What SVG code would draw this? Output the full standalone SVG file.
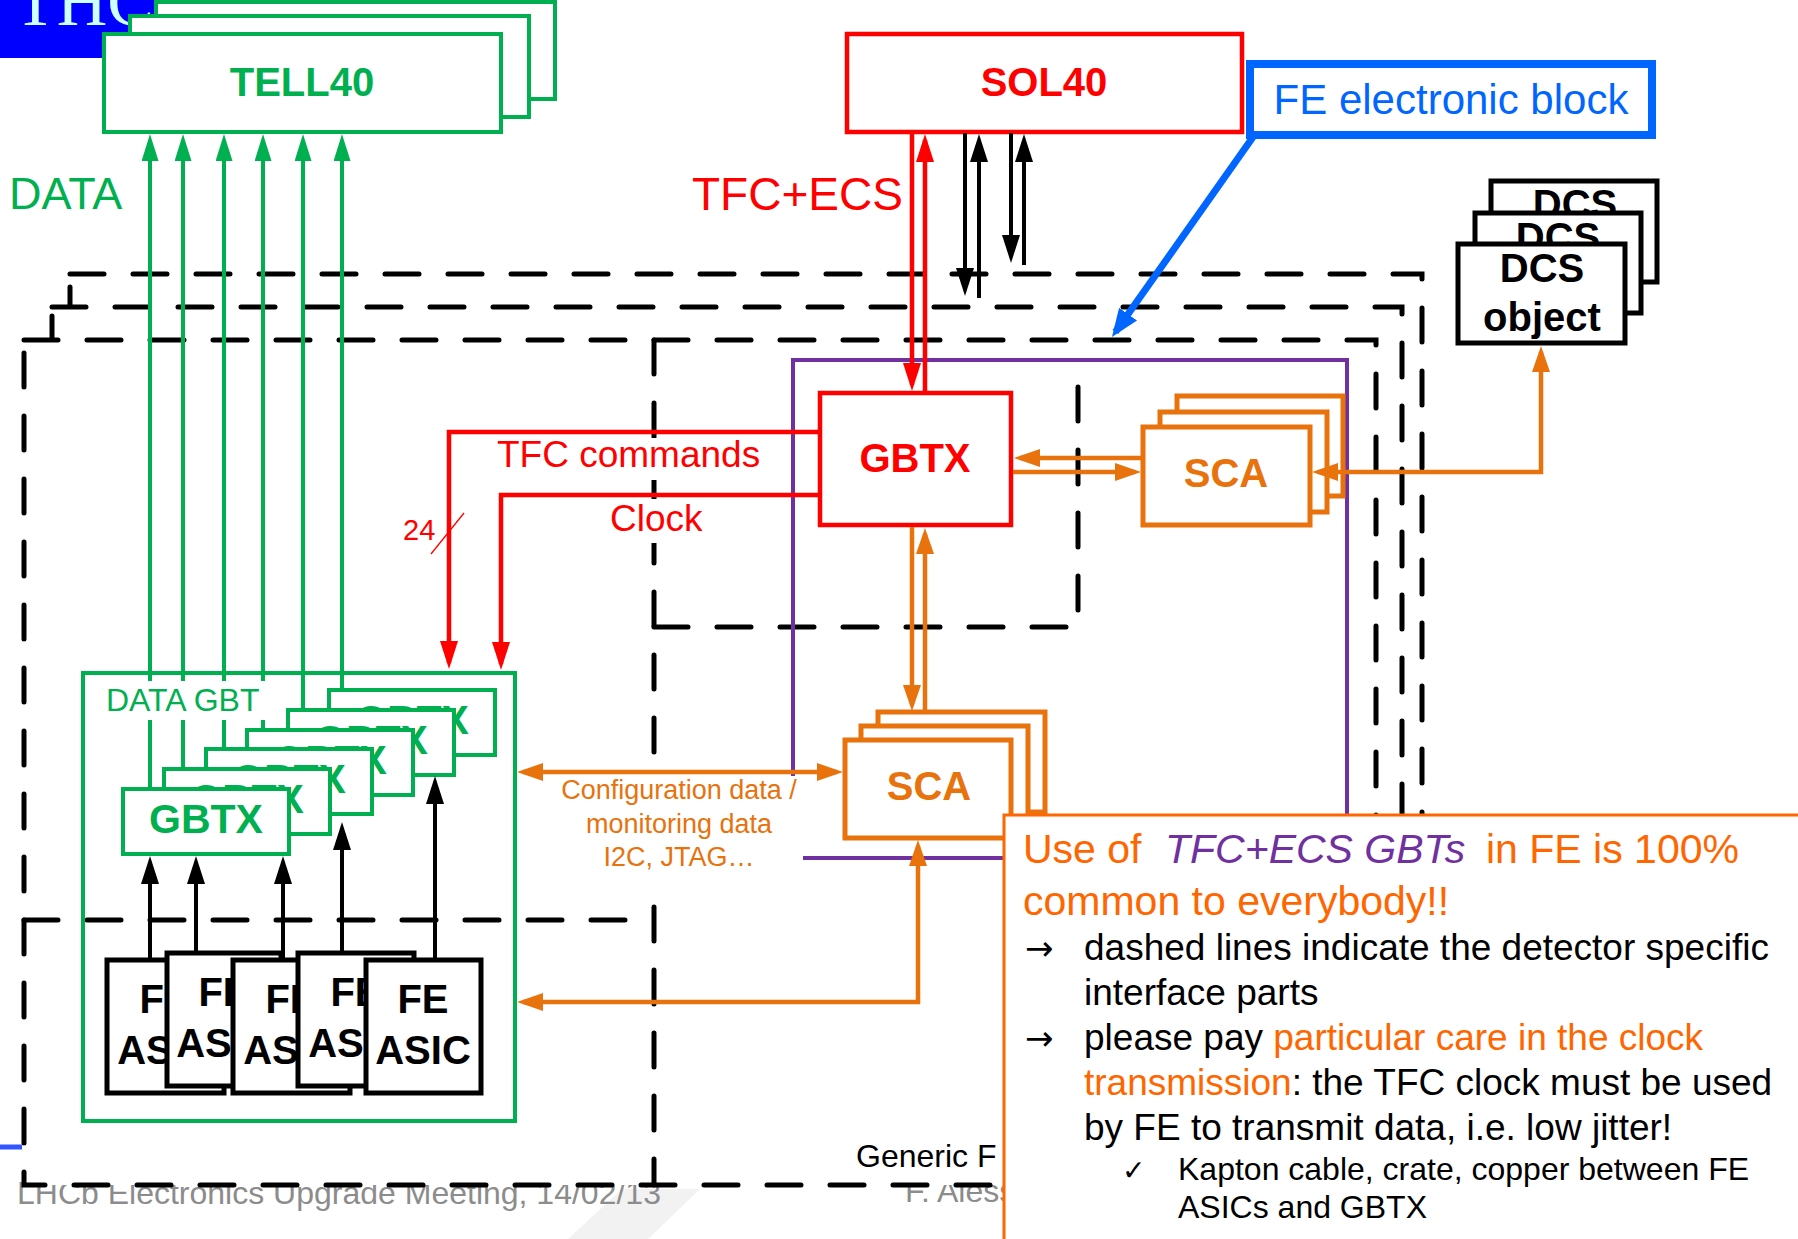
<svg xmlns="http://www.w3.org/2000/svg" width="1798" height="1239" viewBox="0 0 1798 1239">
<style>
text{font-family:"Liberation Sans",Arial,sans-serif}
.b{font-weight:bold}
.g{fill:#00B050}
.r{fill:#FF0000}
.o{fill:#E8720C}
.k{fill:#000}
.gbox{fill:#fff;stroke:#00B050;stroke-width:4}
.rbox{fill:#fff;stroke:#FF0000;stroke-width:4.5}
.obox{fill:#fff;stroke:#E8720C;stroke-width:5}
.kbox{fill:#fff;stroke:#000;stroke-width:5}
.dash{fill:none;stroke:#000;stroke-width:5;stroke-dasharray:34 29;stroke-linecap:round}
.dashf{fill:#fff;stroke:#000;stroke-width:5;stroke-dasharray:34 29;stroke-linecap:round}
.cg{fill:none;stroke:#00B050;stroke-width:4;marker-end:url(#mg)}
.cr{fill:none;stroke:#FF0000;stroke-width:4.5}
.ck{fill:none;stroke:#000;stroke-width:4}
.co{fill:none;stroke:#E8720C;stroke-width:4.5}
</style>
<defs>
<marker id="mg" viewBox="0 0 27 17" refX="21" refY="8.5" markerWidth="27" markerHeight="17" markerUnits="userSpaceOnUse" orient="auto-start-reverse"><path d="M0,0L27,8.5L0,17z" fill="#00B050"/></marker>
<marker id="mr" viewBox="0 0 28 18" refX="22" refY="9" markerWidth="28" markerHeight="18" markerUnits="userSpaceOnUse" orient="auto-start-reverse"><path d="M0,0L28,9L0,18z" fill="#FF0000"/></marker>
<marker id="mk" viewBox="0 0 28 18" refX="22" refY="9" markerWidth="28" markerHeight="18" markerUnits="userSpaceOnUse" orient="auto-start-reverse"><path d="M0,0L28,9L0,18z" fill="#000"/></marker>
<marker id="mo" viewBox="0 0 26 18" refX="20" refY="9" markerWidth="26" markerHeight="18" markerUnits="userSpaceOnUse" orient="auto-start-reverse"><path d="M0,0L26,9L0,18z" fill="#E8720C"/></marker>
<marker id="mb" viewBox="0 0 28 22" refX="22" refY="11" markerWidth="28" markerHeight="22" markerUnits="userSpaceOnUse" orient="auto-start-reverse"><path d="M0,0L28,11L0,22z" fill="#0066FF"/></marker>
</defs>
<rect x="0" y="0" width="1798" height="1239" fill="#fff"/>
<polygon points="622,1189 700,1189 648,1239 568,1239" fill="#F2F2F2"/>

<g id="title-bar">
<rect x="0" y="0" width="160" height="58" fill="#0000FF"/>
<text x="14" y="25" style="font-family:'Liberation Serif',serif;font-size:70px" fill="#CCFFFF">THC</text>
</g>
<line x1="0" y1="1147" x2="22" y2="1147" stroke="#3355FF" stroke-width="5"/>

<g id="footer">
<text x="17" y="1204" style="font-size:32px" fill="#8C8C8C">LHCb Electronics Upgrade Meeting, 14/02/13</text>
<text x="905" y="1202" style="font-size:32px" fill="#8C8C8C">F. Aless</text>
</g>

<g id="detector-frames">
<rect class="dashf" x="70" y="274" width="1352" height="845"/>
<rect class="dashf" x="52" y="307" width="1350" height="845"/>
<rect class="dashf" x="24" y="340" width="1352" height="845"/>
<path class="dash" d="M654,340V1185"/>
<path class="dash" d="M24,920H654"/>
<path class="dash" d="M654,627H1078V360"/>
</g>

<g id="fe-block-outline">
<rect x="793" y="360" width="554" height="498" fill="none" stroke="#7030A0" stroke-width="4"/>
</g>

<g id="tell40">
<rect class="gbox" x="156" y="2" width="399" height="97"/>
<rect class="gbox" x="130" y="16" width="399" height="101"/>
<rect class="gbox" x="104" y="34" width="397" height="98"/>
<text class="b g" x="302" y="96" text-anchor="middle" style="font-size:40px">TELL40</text>
</g>

<g id="sol40">
<rect class="rbox" x="847" y="34" width="395" height="98"/>
<text class="b r" x="1044" y="96" text-anchor="middle" style="font-size:40px">SOL40</text>
</g>

<g id="fe-electronic-block">
<rect x="1250" y="64" width="402" height="71" fill="#fff" stroke="#0066FF" stroke-width="8"/>
<text x="1451" y="114" text-anchor="middle" style="font-size:42px" fill="#0066FF">FE electronic block</text>
</g>

<g id="dcs-object">
<rect class="kbox" x="1491" y="181" width="166" height="101"/>
<text class="b k" x="1575" y="218" text-anchor="middle" style="font-size:40px">DCS</text>
<rect class="kbox" x="1475" y="213" width="166" height="100"/>
<text class="b k" x="1558" y="251" text-anchor="middle" style="font-size:40px">DCS</text>
<rect class="kbox" x="1458" y="244" width="167" height="99"/>
<text class="b k" x="1542" y="282" text-anchor="middle" style="font-size:40px">DCS</text>
<text class="b k" x="1542" y="331" text-anchor="middle" style="font-size:40px">object</text>
</g>

<g id="gbtx-tfc">
<rect class="rbox" x="820" y="393" width="191" height="132"/>
<text class="b r" x="915" y="472" text-anchor="middle" style="font-size:40px">GBTX</text>
</g>

<g id="sca-right">
<rect class="obox" x="1177" y="396" width="166" height="100"/>
<rect class="obox" x="1160" y="412" width="167" height="100"/>
<rect class="obox" x="1143" y="427" width="167" height="98"/>
<text class="b o" x="1226" y="487" text-anchor="middle" style="font-size:40px">SCA</text>
</g>

<g id="sca-bottom">
<rect class="obox" x="878" y="712" width="167" height="100"/>
<rect class="obox" x="861" y="726" width="167" height="100"/>
<rect class="obox" x="845" y="740" width="166" height="98"/>
<text class="b o" x="929" y="800" text-anchor="middle" style="font-size:40px">SCA</text>
</g>

<g id="data-gbt">
<rect x="83" y="673" width="432" height="448" fill="none" stroke="#00B050" stroke-width="4"/>
</g>

<g id="data-gbtx-stack">
<rect class="gbox" x="329" y="690" width="166" height="65"/>
<text class="b g" x="412" y="734" text-anchor="middle" style="font-size:41px">GBTX</text>
<rect class="gbox" x="288" y="710" width="166" height="65"/>
<text class="b g" x="371" y="754" text-anchor="middle" style="font-size:41px">GBTX</text>
<rect class="gbox" x="247" y="730" width="166" height="65"/>
<text class="b g" x="330" y="774" text-anchor="middle" style="font-size:41px">GBTX</text>
<rect class="gbox" x="206" y="749" width="166" height="65"/>
<text class="b g" x="289" y="793" text-anchor="middle" style="font-size:41px">GBTX</text>
<rect class="gbox" x="164" y="769" width="166" height="65"/>
<text class="b g" x="247" y="813" text-anchor="middle" style="font-size:41px">GBTX</text>
<rect class="gbox" x="123" y="789" width="166" height="65"/>
<text class="b g" x="206" y="833" text-anchor="middle" style="font-size:41px">GBTX</text>
</g>

<g id="fe-asic-stack">
<rect class="kbox" x="107" y="960" width="117" height="133"/>
<text class="b k" x="165" y="1013" text-anchor="middle" style="font-size:40px">FE</text>
<text class="b k" x="165" y="1064" text-anchor="middle" style="font-size:40px">ASIC</text>
<rect class="kbox" x="167" y="953" width="114" height="133"/>
<text class="b k" x="224" y="1006" text-anchor="middle" style="font-size:40px">FE</text>
<text class="b k" x="224" y="1057" text-anchor="middle" style="font-size:40px">ASIC</text>
<rect class="kbox" x="233" y="960" width="117" height="133"/>
<text class="b k" x="291" y="1013" text-anchor="middle" style="font-size:40px">FE</text>
<text class="b k" x="291" y="1064" text-anchor="middle" style="font-size:40px">ASIC</text>
<rect class="kbox" x="298" y="953" width="116" height="133"/>
<text class="b k" x="356" y="1006" text-anchor="middle" style="font-size:40px">FE</text>
<text class="b k" x="356" y="1057" text-anchor="middle" style="font-size:40px">ASIC</text>
<rect class="kbox" x="366" y="960" width="115" height="133"/>
<text class="b k" x="423" y="1013" text-anchor="middle" style="font-size:40px">FE</text>
<text class="b k" x="423" y="1064" text-anchor="middle" style="font-size:40px">ASIC</text>
</g>

<g id="connectors">
<path class="cg" d="M150,789V140"/>
<path class="cg" d="M183,769V140"/>
<path class="cg" d="M224,749V140"/>
<path class="cg" d="M263,730V140"/>
<path class="cg" d="M303,710V140"/>
<path class="cg" d="M342,690V140"/>
<path class="cr" d="M912,133V385" marker-end="url(#mr)"/>
<path class="cr" d="M925,391V140" marker-end="url(#mr)"/>
<path class="cr" d="M818,432H449V663" marker-end="url(#mr)"/>
<path class="cr" d="M818,495H501V664" stroke-width="5.5" marker-end="url(#mr)"/>
<line x1="431" y1="554" x2="464" y2="513" stroke="#FF0000" stroke-width="1.3"/>
<path class="ck" d="M965,133V290" marker-end="url(#mk)"/>
<path class="ck" d="M979,298V140" marker-end="url(#mk)"/>
<path class="ck" d="M1011,133V257" marker-end="url(#mk)"/>
<path class="ck" d="M1024,265V140" marker-end="url(#mk)"/>
<path class="ck" d="M150,958V862" marker-end="url(#mk)"/>
<path class="ck" d="M196,951V862" marker-end="url(#mk)"/>
<path class="ck" d="M283,958V862" marker-end="url(#mk)"/>
<path class="ck" d="M342,951V828" marker-end="url(#mk)"/>
<path class="ck" d="M435,958V782" marker-end="url(#mk)"/>
<path class="co" d="M1141,458H1020" marker-end="url(#mo)"/>
<path class="co" d="M1013,472H1135" marker-end="url(#mo)"/>
<path class="co" d="M912,527V705" marker-end="url(#mo)"/>
<path class="co" d="M925,712V534" marker-end="url(#mo)"/>
<path class="co" d="M523,772H837" marker-start="url(#mo)" marker-end="url(#mo)"/>
<path class="co" d="M523,1002H918V846" marker-start="url(#mo)" marker-end="url(#mo)"/>
<path class="co" d="M1318,472H1541V352" marker-start="url(#mo)" marker-end="url(#mo)"/>
<path d="M1253,137L1115.4,332.1" fill="none" stroke="#0066FF" stroke-width="7" marker-end="url(#mb)"/>
</g>

<g id="labels">
<text class="g" x="9" y="209" style="font-size:45px">DATA</text>
<text class="r" x="692" y="210" style="font-size:46px">TFC+ECS</text>
<rect x="495" y="438" width="275" height="42" fill="#fff"/>
<text class="r" x="497" y="467" style="font-size:37px">TFC commands</text>
<rect x="606" y="499" width="100" height="44" fill="#fff"/>
<text class="r" x="610" y="531" style="font-size:37px">Clock</text>
<text class="r" x="403" y="540" style="font-size:29px">24</text>
<rect x="101" y="681" width="171" height="39" fill="#fff"/>
<text class="g" x="106" y="711" style="font-size:32px">DATA GBT</text>
<rect x="550" y="776" width="253" height="117" fill="#fff"/>
<text class="o" x="679" y="799" text-anchor="middle" style="font-size:27px">Configuration data /</text>
<text class="o" x="679" y="833" text-anchor="middle" style="font-size:27px">monitoring data</text>
<text class="o" x="679" y="866" text-anchor="middle" style="font-size:27px">I2C, JTAG…</text>
<text class="k" x="856" y="1167" style="font-size:32px">Generic F</text>
</g>

<g id="note-box">
<rect x="1004" y="815" width="800" height="430" fill="#fff" stroke="#FF6600" stroke-width="3"/>
<text y="863" style="font-size:41px"><tspan x="1023" fill="#FF6600">Use of</tspan><tspan x="1165" fill="#7030A0" font-style="italic">TFC+ECS GBTs</tspan><tspan x="1486" fill="#FF6600">in FE is 100%</tspan></text>
<text x="1023" y="915" style="font-size:41px" fill="#FF6600">common to everybody!!</text>
<text x="1025" y="960" style="font-family:'DejaVu Sans',sans-serif;font-size:34px" fill="#000">→</text>
<text x="1084" y="960" style="font-size:37px" fill="#000">dashed lines indicate the detector specific</text>
<text x="1084" y="1005" style="font-size:37px" fill="#000">interface parts</text>
<text x="1025" y="1050" style="font-family:'DejaVu Sans',sans-serif;font-size:34px" fill="#000">→</text>
<text x="1084" y="1050" style="font-size:37px" fill="#000">please pay <tspan fill="#FF6600">particular care in the clock</tspan></text>
<text x="1084" y="1095" style="font-size:37px" fill="#000"><tspan fill="#FF6600">transmission</tspan>: the TFC clock must be used</text>
<text x="1084" y="1140" style="font-size:37px" fill="#000">by FE to transmit data, i.e. low jitter!</text>
<text x="1122" y="1180" style="font-family:'DejaVu Sans',sans-serif;font-size:28px" fill="#000">✓</text>
<text x="1178" y="1180" style="font-size:32px" fill="#000">Kapton cable, crate, copper between FE</text>
<text x="1178" y="1218" style="font-size:32px" fill="#000">ASICs and GBTX</text>
</g>
</svg>
